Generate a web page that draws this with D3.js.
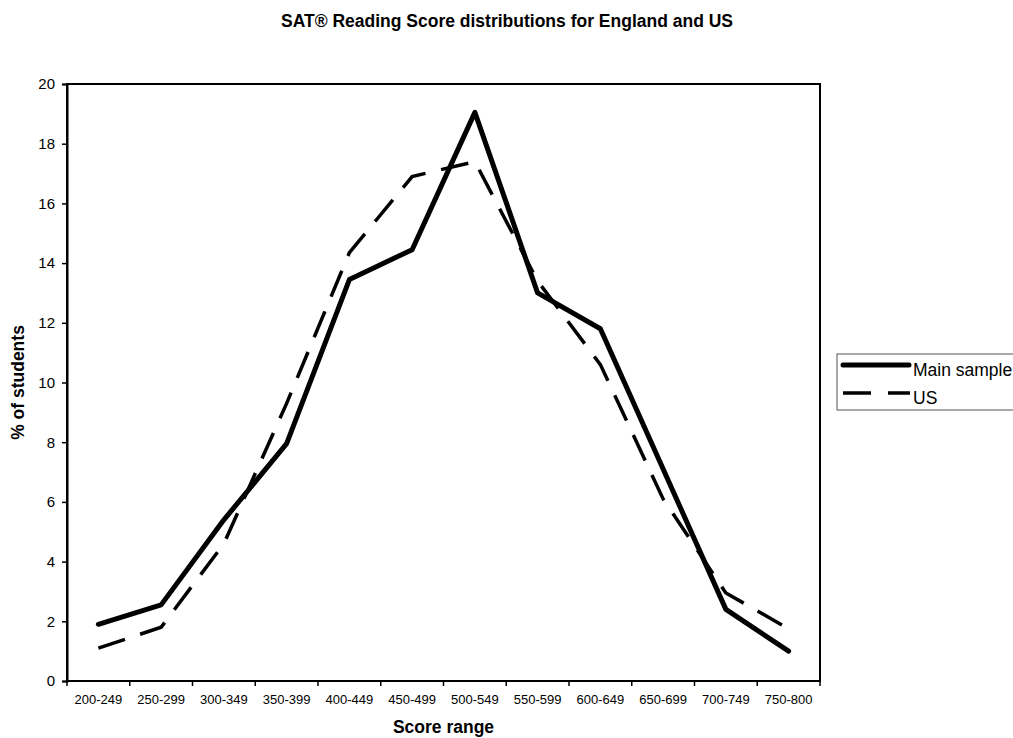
<!DOCTYPE html>
<html>
<head>
<meta charset="utf-8">
<script src="https://cdn.jsdelivr.net/npm/d3@7"></script>
<style>
  body { margin: 0; background: #fff; }
  text { font-family: Arial, "Liberation Sans", sans-serif; fill: #000; }
</style>
</head>
<body>
<div id="vis"></div>
<script>
'use strict';

var scoreRanges = ['200-249', '250-299', '300-349', '350-399', '400-449', '450-499',
    '500-549', '550-599', '600-649', '650-699', '700-749', '750-800'];
var mainSample = [1.9, 2.55, 5.4, 7.95, 13.45, 14.45, 19.05, 13.0, 11.8, 7.1, 2.4, 1.0];
var usSample = [1.1, 1.8, 4.6, 9.3, 14.35, 16.9, 17.4, 13.4, 10.6, 6.1, 2.95, 1.75];
var yTicks = [0, 2, 4, 6, 8, 10, 12, 14, 16, 18, 20];
var seriesNames = ['Main sample', 'US'];

var width = 1013, height = 738;
//plot area box
var plot = { left: 67, right: 820, top: 84, bottom: 681 };

var svg = d3.select('#vis').append('svg')
    .attr('width', width)
    .attr('height', height);

var x = d3.scaleBand()
    .domain(scoreRanges)
    .range([plot.left, plot.right]);

var y = d3.scaleLinear()
    .domain([0, 20])
    .range([plot.bottom, plot.top]);

//title
svg.append('text')
    .text('SAT® Reading Score distributions for England and US')
    .attr('x', 507)
    .attr('y', 27)
    .attr('text-anchor', 'middle')
    .style('font-size', '17.5px')
    .style('font-weight', 'bold');

//frame of the plot
svg.append('rect')
    .attr('x', plot.left)
    .attr('y', plot.top)
    .attr('width', plot.right - plot.left)
    .attr('height', plot.bottom - plot.top)
    .attr('fill', 'none')
    .attr('stroke', '#000')
    .attr('stroke-width', 2);

//y axis
var yAxis = svg.append('g')
    .attr('transform', 'translate(' + plot.left + ',0)')
    .call(d3.axisLeft(y).tickValues(yTicks).tickSize(5).tickPadding(7));
yAxis.select('.domain').attr('stroke-width', 2);
yAxis.selectAll('.tick line').attr('stroke-width', 1.5);
yAxis.selectAll('text').style('font-size', '15px').style('font-family', 'Arial, "Liberation Sans", sans-serif');

//x axis, ticks sit on the category boundaries
var xAxis = svg.append('g')
    .attr('transform', 'translate(0,' + plot.bottom + ')')
    .call(d3.axisBottom(x).tickSize(0).tickPadding(14));
xAxis.select('.domain').remove();
xAxis.selectAll('text').style('font-size', '13px').style('font-family', 'Arial, "Liberation Sans", sans-serif');
svg.append('g')
    .selectAll('line')
    .data(d3.range(scoreRanges.length + 1))
    .enter().append('line')
    .attr('x1', function (i) { return plot.left + i * x.step(); })
    .attr('x2', function (i) { return plot.left + i * x.step(); })
    .attr('y1', plot.bottom)
    .attr('y2', plot.bottom + 5)
    .attr('stroke', '#000')
    .attr('stroke-width', 1.5);

//axis titles
svg.append('text')
    .text('Score range')
    .attr('x', (plot.left + plot.right) / 2)
    .attr('y', 733)
    .attr('text-anchor', 'middle')
    .style('font-size', '17.5px')
    .style('font-weight', 'bold');
svg.append('text')
    .text('% of students')
    .attr('transform', 'translate(24,' + ((plot.top + plot.bottom) / 2) + ') rotate(-90)')
    .attr('text-anchor', 'middle')
    .style('font-size', '17.5px')
    .style('font-weight', 'bold');

//lines
var line = d3.line()
    .x(function (d, i) { return x(scoreRanges[i]) + x.bandwidth() / 2; })
    .y(function (d) { return y(d); });

svg.append('path')
    .datum(usSample)
    .attr('d', line)
    .attr('fill', 'none')
    .attr('stroke', '#000')
    .attr('stroke-width', 3.5)
    .attr('stroke-dasharray', '28,16');

svg.append('path')
    .datum(mainSample)
    .attr('d', line)
    .attr('fill', 'none')
    .attr('stroke', '#000')
    .attr('stroke-width', 5)
    .attr('stroke-linejoin', 'round')
    .attr('stroke-linecap', 'round');

//legend
var legend = svg.append('g').attr('transform', 'translate(837,354)');
legend.append('rect')
    .attr('x', 0)
    .attr('y', 0)
    .attr('width', 190)
    .attr('height', 56)
    .attr('fill', '#fff')
    .attr('stroke', '#555')
    .attr('stroke-width', 1);
legend.append('line')
    .attr('x1', 6).attr('x2', 72)
    .attr('y1', 11).attr('y2', 11)
    .attr('stroke', '#000')
    .attr('stroke-width', 5)
    .attr('stroke-linecap', 'round');
legend.append('line')
    .attr('x1', 6).attr('x2', 73)
    .attr('y1', 39).attr('y2', 39)
    .attr('stroke', '#000')
    .attr('stroke-width', 3.5)
    .attr('stroke-dasharray', '28,17');
legend.selectAll('text.lbl')
    .data(seriesNames)
    .enter().append('text')
    .attr('class', 'lbl')
    .text(function (d) { return d; })
    .attr('x', 76)
    .attr('y', function (d, i) { return 22 + i * 28; })
    .style('font-size', '17.5px');
</script>
</body>
</html>
